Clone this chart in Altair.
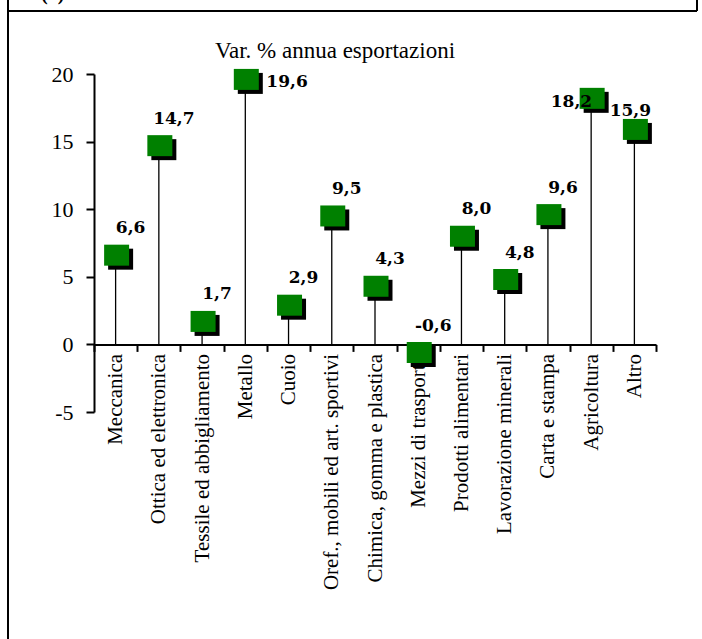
import altair as alt
import pandas as pd

# Annual % change in exports by sector
categories = [
    "Meccanica",
    "Ottica ed elettronica",
    "Tessile ed abbigliamento",
    "Metallo",
    "Cuoio",
    "Oref., mobili ed art. sportivi",
    "Chimica, gomma e plastica",
    "Mezzi di trasporto",
    "Prodotti alimentari",
    "Lavorazione minerali",
    "Carta e stampa",
    "Agricoltura",
    "Altro",
]
values = [6.6, 14.7, 1.7, 19.6, 2.9, 9.5, 4.3, -0.6, 8.0, 4.8, 9.6, 18.2, 15.9]
y_ticks = [-5, 0, 5, 10, 15, 20]

# label placement groups
label_right = ["Metallo"]
label_left = ["Agricoltura"]
label_above = ["Altro"]

title_text = "Var. % annua esportazioni"
panel_text = "(a)"

W, H = 562, 338
Y_MIN, Y_MAX = -5, 20
zero_offset = -H * (0 - Y_MIN) / (Y_MAX - Y_MIN)

SERIF = "Liberation Serif"
GREEN = "#008000"
RECT = "M-1,-0.84L1,-0.84L1,0.84L-1,0.84Z"

df = pd.DataFrame({"cat": categories, "v": values})
one = pd.DataFrame({"k": [0]})

x_enc = alt.X(
    "cat:N",
    sort=categories,
    scale=alt.Scale(type="band", paddingInner=0, paddingOuter=0),
    axis=alt.Axis(
        title=None,
        orient="bottom",
        offset=zero_offset,
        tickBand="extent",
        tickSize=7,
        tickWidth=2,
        tickColor="black",
        domainWidth=2,
        domainColor="black",
        labelAngle=-90,
        labelPadding=2,
        labelFont=SERIF,
        labelFontSize=21,
        labelColor="black",
        labelLimit=500,
        grid=False,
    ),
)
y_enc = alt.Y(
    "v:Q",
    scale=alt.Scale(domain=[Y_MIN, Y_MAX], nice=False, zero=False),
    axis=alt.Axis(
        title=None,
        values=y_ticks,
        labelExpr="'' + datum.value",
        tickSize=8,
        tickWidth=2,
        tickColor="black",
        domainWidth=2,
        domainColor="black",
        labelPadding=13,
        labelFont=SERIF,
        labelFontSize=22,
        labelColor="black",
        grid=False,
    ),
)

base = alt.Chart(df).transform_calculate(
    label="replace(replace(format(datum.v, '.1f'), '.', ','), '\u2212', '-')",
    zero="0",
)

stems = base.mark_rule(color="black", strokeWidth=1.3).encode(
    x=x_enc, y=y_enc, y2="zero:Q"
)

shadow = base.mark_point(
    shape=RECT, size=625, filled=True, color="black", opacity=1,
    strokeWidth=0, xOffset=5, yOffset=4,
).encode(x=x_enc, y=y_enc)

markers = base.mark_point(
    shape=RECT, size=625, filled=True, color=GREEN, opacity=1,
    strokeWidth=0, xOffset=1,
).encode(x=x_enc, y=y_enc)

text_style = dict(font="DejaVu Serif", fontSize=17, fontWeight="bold", color="black")
special = label_right + label_left + label_above

labels_default = base.transform_filter(
    ~alt.FieldOneOfPredicate(field="cat", oneOf=special)
).mark_text(align="center", baseline="middle", dx=15, dy=-27, **text_style).encode(
    x=x_enc, y=y_enc, text="label:N"
)
labels_right = base.transform_filter(
    alt.FieldOneOfPredicate(field="cat", oneOf=label_right)
).mark_text(align="left", baseline="middle", dx=21, dy=3, **text_style).encode(
    x=x_enc, y=y_enc, text="label:N"
)
labels_left = base.transform_filter(
    alt.FieldOneOfPredicate(field="cat", oneOf=label_left)
).mark_text(align="right", baseline="middle", dx=1, dy=4, **text_style).encode(
    x=x_enc, y=y_enc, text="label:N"
)
labels_above = base.transform_filter(
    alt.FieldOneOfPredicate(field="cat", oneOf=label_above)
).mark_text(align="center", baseline="middle", dx=-4, dy=-18, **text_style).encode(
    x=x_enc, y=y_enc, text="label:N"
)

title = alt.Chart(one).mark_text(
    font=SERIF, fontSize=23, color="black", align="center", baseline="alphabetic"
).encode(x=alt.value(241), y=alt.value(-16), text=alt.value(title_text))

panel = alt.Chart(one).mark_text(
    font=SERIF, fontSize=20, fontWeight="bold", color="black", align="left",
    baseline="alphabetic",
).encode(x=alt.value(-53), y=alt.value(-74), text=alt.value(panel_text))

# outer frame
frame_left = alt.Chart(one).mark_rule(color="black", strokeWidth=2).encode(
    x=alt.value(-86), y=alt.value(-80), y2=alt.value(H + 240)
)
frame_top = alt.Chart(one).mark_rule(color="black", strokeWidth=2).encode(
    x=alt.value(-86), x2=alt.value(W + 41), y=alt.value(-63)
)
frame_right = alt.Chart(one).mark_rule(color="black", strokeWidth=2).encode(
    x=alt.value(W + 41), y=alt.value(-80), y2=alt.value(-63)
)

chart = alt.layer(
    frame_left, frame_top, frame_right, panel, title,
    stems, shadow, markers,
    labels_default, labels_right, labels_left, labels_above,
).properties(
    width=W,
    height=H,
    autosize=alt.AutoSizeParams(type="none"),
    padding={"left": 94, "top": 74, "right": 46, "bottom": 227},
    background="white",
).configure_view(stroke=None)

chart.save("out.html", embed_options={"renderer": "svg", "actions": False})
